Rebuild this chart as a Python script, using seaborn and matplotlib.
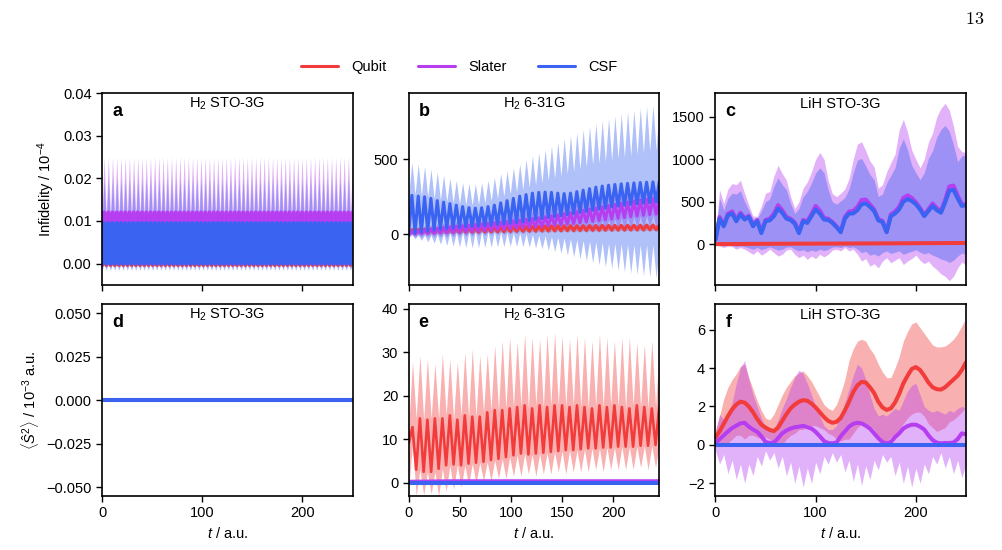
import numpy as np
import matplotlib.pyplot as plt
import seaborn as sns
from matplotlib.lines import Line2D


# colours of the three encodings
RED = "#f23b3b"
PURPLE = "#b63ef0"
BLUE = "#3a63f2"
LW = 2.9

labels = ["Qubit", "Slater", "CSF"]

# ---------------- panel a : H2 STO-3G infidelity (60 periods, per-period extremes)
a_zero = [0.0, 0.0, 0.0, 0.0, 0.0, 0.0, 0.0, 0.0, 0.0, 0.0, 0.0, 0.0,
          0.0, 0.0, 0.0, 0.0, 0.0, 0.0, 0.0, 0.0, 0.0, 0.0, 0.0, 0.0,
          0.0, 0.0, 0.0, 0.0, 0.0, 0.0, 0.0, 0.0, 0.0, 0.0, 0.0, 0.0,
          0.0, 0.0, 0.0, 0.0, 0.0, 0.0, 0.0, 0.0, 0.0, 0.0, 0.0, 0.0,
          0.0, 0.0, 0.0, 0.0, 0.0, 0.0, 0.0, 0.0, 0.0, 0.0, 0.0, 0.0]
a_qubit_lo = [-0.0003, -0.0003, -0.0003, -0.0003, -0.0003, -0.0003, -0.0003, -0.0003, -0.0003, -0.0003, -0.0003, -0.0003,
              -0.0003, -0.0003, -0.0003, -0.0003, -0.0003, -0.0003, -0.0003, -0.0003, -0.0003, -0.0003, -0.0003, -0.0003,
              -0.0003, -0.0003, -0.0003, -0.0003, -0.0003, -0.0003, -0.0003, -0.0003, -0.0003, -0.0003, -0.0003, -0.0003,
              -0.0003, -0.0003, -0.0003, -0.0003, -0.0003, -0.0003, -0.0003, -0.0003, -0.0003, -0.0003, -0.0003, -0.0003,
              -0.0003, -0.0003, -0.0003, -0.0003, -0.0003, -0.0003, -0.0003, -0.0003, -0.0003, -0.0003, -0.0003, -0.0003]
a_qubit_hi = [0.0093, 0.0093, 0.0093, 0.0093, 0.0093, 0.0093, 0.0093, 0.0093, 0.0093, 0.0093, 0.0093, 0.0093,
              0.0093, 0.0093, 0.0093, 0.0093, 0.0093, 0.0093, 0.0093, 0.0093, 0.0093, 0.0093, 0.0093, 0.0093,
              0.0093, 0.0093, 0.0093, 0.0093, 0.0093, 0.0093, 0.0093, 0.0093, 0.0093, 0.0093, 0.0093, 0.0093,
              0.0093, 0.0093, 0.0093, 0.0093, 0.0093, 0.0093, 0.0093, 0.0093, 0.0093, 0.0093, 0.0093, 0.0093,
              0.0093, 0.0093, 0.0093, 0.0093, 0.0093, 0.0093, 0.0093, 0.0093, 0.0093, 0.0093, 0.0093, 0.0093]
a_qubit_up = [0.0097, 0.0097, 0.0097, 0.0097, 0.0097, 0.0097, 0.0097, 0.0097, 0.0097, 0.0097, 0.0097, 0.0097,
              0.0097, 0.0097, 0.0097, 0.0097, 0.0097, 0.0097, 0.0097, 0.0097, 0.0097, 0.0097, 0.0097, 0.0097,
              0.0097, 0.0097, 0.0097, 0.0097, 0.0097, 0.0097, 0.0097, 0.0097, 0.0097, 0.0097, 0.0097, 0.0097,
              0.0097, 0.0097, 0.0097, 0.0097, 0.0097, 0.0097, 0.0097, 0.0097, 0.0097, 0.0097, 0.0097, 0.0097,
              0.0097, 0.0097, 0.0097, 0.0097, 0.0097, 0.0097, 0.0097, 0.0097, 0.0097, 0.0097, 0.0097, 0.0097]
a_qubit_dn = [-0.0006, -0.0006, -0.0006, -0.0006, -0.0006, -0.0006, -0.0006, -0.0006, -0.0006, -0.0006, -0.0006, -0.0006,
              -0.0006, -0.0006, -0.0006, -0.0006, -0.0006, -0.0006, -0.0006, -0.0006, -0.0006, -0.0006, -0.0006, -0.0006,
              -0.0006, -0.0006, -0.0006, -0.0006, -0.0006, -0.0006, -0.0006, -0.0006, -0.0006, -0.0006, -0.0006, -0.0006,
              -0.0006, -0.0006, -0.0006, -0.0006, -0.0006, -0.0006, -0.0006, -0.0006, -0.0006, -0.0006, -0.0006, -0.0006,
              -0.0006, -0.0006, -0.0006, -0.0006, -0.0006, -0.0006, -0.0006, -0.0006, -0.0006, -0.0006, -0.0006, -0.0006]
a_slater_hi = [0.0120, 0.0120, 0.0120, 0.0120, 0.0120, 0.0120, 0.0120, 0.0120, 0.0120, 0.0120, 0.0120, 0.0120,
               0.0120, 0.0120, 0.0120, 0.0120, 0.0120, 0.0120, 0.0120, 0.0120, 0.0120, 0.0120, 0.0120, 0.0120,
               0.0120, 0.0120, 0.0120, 0.0120, 0.0120, 0.0120, 0.0120, 0.0120, 0.0120, 0.0120, 0.0120, 0.0120,
               0.0120, 0.0120, 0.0120, 0.0120, 0.0120, 0.0120, 0.0120, 0.0120, 0.0120, 0.0120, 0.0120, 0.0120,
               0.0120, 0.0120, 0.0120, 0.0120, 0.0120, 0.0120, 0.0120, 0.0120, 0.0120, 0.0120, 0.0120, 0.0120]
a_slater_up = [0.0250, 0.0250, 0.0250, 0.0250, 0.0250, 0.0250, 0.0250, 0.0250, 0.0250, 0.0250, 0.0250, 0.0250,
               0.0250, 0.0250, 0.0250, 0.0250, 0.0250, 0.0250, 0.0250, 0.0250, 0.0250, 0.0250, 0.0250, 0.0250,
               0.0250, 0.0250, 0.0250, 0.0250, 0.0250, 0.0250, 0.0250, 0.0250, 0.0250, 0.0250, 0.0250, 0.0250,
               0.0250, 0.0250, 0.0250, 0.0250, 0.0250, 0.0250, 0.0250, 0.0250, 0.0250, 0.0250, 0.0250, 0.0250,
               0.0250, 0.0250, 0.0250, 0.0250, 0.0250, 0.0250, 0.0250, 0.0250, 0.0250, 0.0250, 0.0250, 0.0250]
a_slater_dn = [-0.0010, -0.0010, -0.0010, -0.0010, -0.0010, -0.0010, -0.0010, -0.0010, -0.0010, -0.0010, -0.0010, -0.0010,
               -0.0010, -0.0010, -0.0010, -0.0010, -0.0010, -0.0010, -0.0010, -0.0010, -0.0010, -0.0010, -0.0010, -0.0010,
               -0.0010, -0.0010, -0.0010, -0.0010, -0.0010, -0.0010, -0.0010, -0.0010, -0.0010, -0.0010, -0.0010, -0.0010,
               -0.0010, -0.0010, -0.0010, -0.0010, -0.0010, -0.0010, -0.0010, -0.0010, -0.0010, -0.0010, -0.0010, -0.0010,
               -0.0010, -0.0010, -0.0010, -0.0010, -0.0010, -0.0010, -0.0010, -0.0010, -0.0010, -0.0010, -0.0010, -0.0010]
a_csf_hi = [0.0095, 0.0095, 0.0095, 0.0095, 0.0095, 0.0095, 0.0095, 0.0095, 0.0095, 0.0095, 0.0095, 0.0095,
            0.0095, 0.0095, 0.0095, 0.0095, 0.0095, 0.0095, 0.0095, 0.0095, 0.0095, 0.0095, 0.0095, 0.0095,
            0.0095, 0.0095, 0.0095, 0.0095, 0.0095, 0.0095, 0.0095, 0.0095, 0.0095, 0.0095, 0.0095, 0.0095,
            0.0095, 0.0095, 0.0095, 0.0095, 0.0095, 0.0095, 0.0095, 0.0095, 0.0095, 0.0095, 0.0095, 0.0095,
            0.0095, 0.0095, 0.0095, 0.0095, 0.0095, 0.0095, 0.0095, 0.0095, 0.0095, 0.0095, 0.0095, 0.0095]
a_csf_up = [0.0200, 0.0200, 0.0200, 0.0200, 0.0200, 0.0200, 0.0200, 0.0200, 0.0200, 0.0200, 0.0200, 0.0200,
            0.0200, 0.0200, 0.0200, 0.0200, 0.0200, 0.0200, 0.0200, 0.0200, 0.0200, 0.0200, 0.0200, 0.0200,
            0.0200, 0.0200, 0.0200, 0.0200, 0.0200, 0.0200, 0.0200, 0.0200, 0.0200, 0.0200, 0.0200, 0.0200,
            0.0200, 0.0200, 0.0200, 0.0200, 0.0200, 0.0200, 0.0200, 0.0200, 0.0200, 0.0200, 0.0200, 0.0200,
            0.0200, 0.0200, 0.0200, 0.0200, 0.0200, 0.0200, 0.0200, 0.0200, 0.0200, 0.0200, 0.0200, 0.0200]
a_csf_dn = [-0.0016, -0.0016, -0.0016, -0.0016, -0.0016, -0.0016, -0.0016, -0.0016, -0.0016, -0.0016, -0.0016, -0.0016,
            -0.0016, -0.0016, -0.0016, -0.0016, -0.0016, -0.0016, -0.0016, -0.0016, -0.0016, -0.0016, -0.0016, -0.0016,
            -0.0016, -0.0016, -0.0016, -0.0016, -0.0016, -0.0016, -0.0016, -0.0016, -0.0016, -0.0016, -0.0016, -0.0016,
            -0.0016, -0.0016, -0.0016, -0.0016, -0.0016, -0.0016, -0.0016, -0.0016, -0.0016, -0.0016, -0.0016, -0.0016,
            -0.0016, -0.0016, -0.0016, -0.0016, -0.0016, -0.0016, -0.0016, -0.0016, -0.0016, -0.0016, -0.0016, -0.0016]

# ---------------- panel b : H2 6-31G infidelity (40 periods)
b_csf_lo = [0, 8, 15, 22, 28, 33, 38, 42, 46, 50, 52, 55, 58, 62, 66, 70, 74, 78, 83, 90,
            98, 105, 112, 118, 124, 130, 137, 145, 152, 160, 168, 175, 182, 188, 194, 199, 204, 208, 212, 216]
b_csf_hi = [260, 255, 250, 240, 225, 215, 205, 195, 185, 178, 175, 178, 185, 195, 210, 225, 240, 255, 265, 275,
            280, 282, 280, 275, 272, 275, 285, 295, 305, 315, 322, 328, 333, 337, 340, 343, 346, 348, 350, 352]
b_csf_up = [480, 470, 455, 435, 415, 395, 375, 360, 345, 340, 338, 345, 360, 380, 405, 425, 445, 470, 500, 525,
            545, 565, 590, 615, 640, 660, 680, 700, 720, 740, 760, 775, 790, 805, 818, 830, 842, 852, 862, 870]
b_csf_upb = [270, 265, 260, 252, 240, 230, 220, 212, 204, 198, 196, 200, 210, 225, 240, 255, 270, 285, 300, 315,
             330, 345, 360, 375, 390, 405, 420, 435, 450, 465, 475, 485, 495, 505, 515, 525, 535, 545, 555, 565]
b_csf_dn = [-20, -30, -40, -50, -58, -65, -72, -78, -84, -88, -90, -90, -88, -86, -84, -82, -80, -80, -82, -85,
            -90, -97, -105, -115, -125, -137, -150, -163, -176, -190, -203, -216, -228, -240, -250, -260, -268, -276, -284, -292]
b_csf_dnb = [0, -5, -5, -5, 0, 5, 10, 12, 15, 18, 20, 20, 20, 18, 15, 12, 10, 8, 5, 0,
             -5, -10, -15, -20, -25, -30, -35, -40, -45, -50, -55, -60, -62, -64, -66, -68, -70, -70, -70, -70]
b_slater_lo = [0, 2, 4, 6, 8, 10, 12, 14, 16, 18, 20, 22, 24, 27, 30, 33, 36, 39, 42, 45,
               48, 52, 56, 60, 64, 68, 72, 77, 82, 87, 92, 97, 102, 107, 112, 117, 122, 127, 131, 135]
b_slater_hi = [20, 25, 30, 35, 40, 45, 50, 55, 58, 62, 66, 70, 74, 78, 82, 86, 90, 95, 100, 105,
               110, 117, 124, 131, 138, 145, 152, 160, 168, 176, 184, 192, 200, 208, 215, 222, 228, 234, 239, 243]
b_slater_up = [50, 55, 60, 66, 72, 78, 84, 90, 95, 100, 105, 110, 116, 122, 128, 134, 140, 147, 154, 161,
               168, 176, 184, 192, 200, 208, 216, 225, 234, 243, 252, 261, 270, 280, 289, 298, 306, 314, 321, 328]
b_slater_dn = [-20, -20, -20, -20, -20, -20, -20, -18, -16, -14, -12, -10, -8, -6, -4, -2, 0, 2, 4, 6,
               8, 10, 12, 14, 16, 18, 20, 22, 24, 26, 28, 30, 32, 34, 36, 38, 40, 42, 44, 46]
b_qubit_lo = [5, 6, 8, 9, 10, 11, 12, 13, 14, 15, 15, 16, 17, 18, 18, 19, 20, 21, 21, 22,
              22, 23, 23, 24, 24, 25, 25, 26, 26, 27, 27, 28, 28, 29, 29, 30, 30, 30, 31, 31]
b_qubit_hi = [30, 32, 34, 36, 38, 40, 40, 42, 42, 44, 44, 46, 46, 48, 48, 50, 50, 52, 52, 54,
              54, 56, 56, 57, 57, 58, 58, 58, 59, 59, 60, 60, 60, 60, 61, 61, 61, 62, 62, 62]
b_qubit_up = [42, 44, 46, 48, 50, 52, 52, 54, 54, 56, 56, 58, 58, 60, 60, 62, 62, 64, 64, 66,
              66, 68, 68, 69, 69, 70, 70, 70, 71, 71, 72, 72, 72, 72, 73, 73, 73, 74, 74, 74]
b_qubit_dn = [-5, -4, -3, -2, -1, 0, 0, 1, 2, 3, 3, 4, 5, 6, 6, 7, 8, 9, 9, 10,
              10, 11, 11, 12, 12, 13, 13, 14, 14, 15, 15, 16, 16, 17, 17, 18, 18, 18, 19, 19]

# ---------------- panel c : LiH STO-3G infidelity (61 samples)
c_csf_mean = [50, 300, 210, 340, 360, 270, 350, 290, 320, 210, 270, 130, 270, 280, 330, 420, 370, 300, 285, 240,
              130, 270, 250, 330, 410, 360, 290, 285, 250, 200, 140, 300, 360, 362, 400, 470, 480, 440, 390, 280,
              260, 140, 330, 360, 410, 500, 530, 510, 470, 410, 330, 390, 450, 400, 370, 490, 630, 640, 540, 450, 460]
c_slater_mean = [55, 320, 225, 360, 385, 290, 370, 305, 335, 225, 285, 145, 285, 300, 360, 460, 400, 320, 300, 255,
                 145, 285, 270, 355, 450, 395, 310, 300, 262, 210, 150, 320, 385, 390, 440, 520, 525, 470, 410, 295,
                 275, 150, 350, 385, 440, 545, 575, 545, 495, 425, 345, 410, 480, 425, 390, 520, 680, 690, 575, 470, 470]
c_slater_up = [100, 640, 480, 650, 714, 700, 753, 595, 460, 330, 330, 450, 600, 620, 800, 930, 832, 753, 560, 420,
               500, 660, 733, 850, 1000, 1080, 1000, 753, 595, 560, 600, 650, 773, 1000, 1180, 1206, 1100, 980, 910, 660,
               700, 850, 960, 1060, 1344, 1470, 1320, 1108, 1000, 900, 1000, 1200, 1310, 1500, 1600, 1660, 1580, 1390, 1150, 1090, 1080]
c_slater_dn = [0, -20, -40, -20, -30, -60, -40, -60, -90, -120, -80, -130, -100, -60, -100, -140, -120, -70, -60, -120,
               -160, -130, -180, -140, -170, -120, -150, -120, -70, -60, -80, -40, -80, -60, -120, -200, -170, -260, -230, -280,
               -200, -160, -220, -190, -160, -240, -200, -170, -130, -190, -230, -200, -260, -300, -350, -380, -430, -380, -280, -210, -250]
c_csf_up = [90, 540, 400, 540, 600, 590, 630, 500, 400, 300, 300, 390, 500, 530, 680, 780, 700, 640, 480, 360,
            420, 560, 620, 720, 840, 900, 840, 640, 500, 470, 510, 550, 650, 840, 990, 1010, 920, 820, 760, 560,
            590, 720, 810, 900, 1130, 1240, 1110, 930, 840, 760, 840, 1010, 1100, 1260, 1350, 1400, 1330, 1170, 970, 1040, 1050]
c_csf_dn = [0, -10, -20, -10, -15, -30, -20, -30, -45, -60, -40, -65, -50, -30, -50, -70, -60, -35, -30, -60,
            -80, -65, -90, -70, -85, -60, -75, -60, -35, -30, -40, -20, -40, -30, -60, -100, -85, -130, -115, -140,
            -100, -80, -110, -95, -80, -120, -100, -85, -65, -95, -115, -100, -130, -150, -175, -190, -215, -190, -140, -105, -125]
c_qubit_mean = [0, 4, 6, 8, 11, 14]
c_qubit_up = [3, 9, 12, 15, 19, 23]
c_qubit_dn = [-3, -1, 0, 1, 3, 5]

# ---------------- panel d : H2 STO-3G <S^2> (all zero)
d_mean = [0.0, 0.0]

# ---------------- panel e : H2 6-31G <S^2> (34 periods)
e_qubit_lo = [9.0, 3.0, 2.5, 2.5, 3.2, 4.0, 4.2, 4.0, 4.4, 4.6, 4.8, 5.2, 5.5, 5.9, 6.3, 6.7, 6.5,
              6.7, 6.9, 7.1, 7.3, 7.5, 7.5, 7.7, 7.9, 7.9, 8.1, 8.1, 8.3, 8.3, 8.3, 8.5, 8.5, 8.7]
e_qubit_hi = [12.8, 14.8, 14.5, 14.8, 14.8, 15.5, 14.5, 15.5, 15.2, 15.2, 16.2, 16.7, 16.7, 17.1, 17.4, 17.8, 17.1,
              17.8, 17.4, 17.8, 17.8, 17.4, 17.8, 17.4, 17.1, 17.8, 17.4, 17.8, 17.4, 17.1, 17.8, 17.4, 17.1, 17.6]
e_qubit_up = [27.8, 29.3, 28.5, 27.4, 29.7, 28.5, 27.8, 30.0, 30.8, 29.3, 29.7, 31.6, 32.7, 33.5, 32.5, 34.3, 33.5,
              33.2, 34.3, 34.6, 33.8, 33.2, 34.3, 33.5, 32.7, 34.3, 33.5, 32.7, 33.5, 33.5, 32.3, 31.9, 32.7, 30.8]
e_qubit_dn = [-1.5, -3.0, -2.8, -2.5, -3.0, -2.0, -1.5, -1.0, -0.5, 0.0, 0.5, 0.5, 1.0, 1.0, 1.5, 1.5, 2.0,
              1.5, 2.0, 2.0, 2.5, 2.0, 2.5, 2.5, 2.5, 3.0, 2.5, 3.0, 3.0, 3.0, 3.0, 3.5, 3.0, 3.5]
e_slater_mean = [0.2, 0.3, 0.3, 0.3, 0.3, 0.3]
e_slater_up = [0.8, 1.0, 1.0, 1.0, 1.0, 1.0]
e_slater_dn = [-0.2, -0.2, -0.2, -0.2, -0.2, -0.2]
e_csf_mean = [0.0, 0.0, 0.0, 0.0, 0.0, 0.0]

# ---------------- panel f : LiH STO-3G <S^2> (61 samples)
f_qubit_mean = [0.40, 0.70, 1.10, 1.50, 1.85, 2.10, 2.25, 2.20, 2.00, 1.70, 1.35, 1.05, 0.90, 0.78, 0.72, 0.90,
                1.25, 1.60, 1.90, 2.10, 2.25, 2.33, 2.30, 2.15, 1.95, 1.70, 1.45, 1.25, 1.15, 1.20, 1.40, 1.80,
                2.25, 2.75, 3.10, 3.28, 3.25, 3.00, 2.70, 2.25, 1.95, 1.82, 1.90, 2.20, 2.65, 3.20, 3.60, 3.95,
                4.05, 3.90, 3.60, 3.25, 3.00, 2.90, 2.88, 3.00, 3.20, 3.40, 3.60, 3.90, 4.30]
f_qubit_up = [0.8, 1.5, 2.4, 3.0, 3.4, 3.7, 4.1, 4.2, 3.5, 2.9, 2.3, 1.8, 1.4, 1.3, 1.6, 2.1,
              2.6, 3.0, 3.3, 3.6, 3.75, 3.85, 3.6, 3.3, 2.9, 2.5, 2.1, 1.9, 1.8, 2.1, 2.7, 3.4,
              4.4, 5.0, 5.4, 5.5, 5.4, 5.0, 4.7, 4.2, 3.8, 3.5, 3.5, 4.0, 4.6, 5.4, 5.9, 6.3,
              6.4, 6.1, 5.8, 5.5, 5.2, 5.1, 5.1, 5.15, 5.3, 5.5, 5.8, 6.2, 6.6]
f_qubit_dn = [0.0, 0.0, 0.0, 0.1, 0.3, 0.5, 0.5, 0.3, 0.5, 0.5, 0.4, 0.3, 0.4, 0.3, 0.0, -0.1,
              0.0, 0.3, 0.5, 0.6, 0.8, 0.8, 1.0, 1.0, 1.0, 0.9, 0.8, 0.6, 0.5, 0.3, 0.2, 0.3,
              0.3, 0.6, 0.9, 1.1, 1.1, 1.0, 0.8, 0.4, 0.2, 0.2, 0.4, 0.5, 0.8, 1.1, 1.4, 1.6,
              1.7, 1.7, 1.5, 1.1, 0.9, 0.7, 0.8, 0.9, 1.2, 1.3, 1.5, 1.7, 2.0]
f_slater_mean = [0.10, 0.30, 0.50, 0.70, 0.88, 1.00, 1.12, 1.15, 0.95, 0.80, 0.68, 0.45, 0.15, 0.10, 0.12, 0.35,
                 0.60, 0.75, 0.85, 0.92, 0.95, 0.99, 0.92, 0.85, 0.68, 0.45, 0.20, 0.10, 0.08, 0.12, 0.45, 0.70,
                 0.95, 1.10, 1.15, 1.12, 1.00, 0.85, 0.60, 0.35, 0.15, 0.08, 0.15, 0.40, 0.60, 0.85, 0.98, 1.05,
                 1.05, 0.95, 0.80, 0.50, 0.25, 0.12, 0.08, 0.10, 0.10, 0.12, 0.30, 0.60, 0.55]
f_slater_up = [0.6, 1.6, 1.3, 1.6, 2.2, 3.2, 4.0, 4.4, 3.4, 2.6, 2.0, 1.4, 0.9, 0.7, 0.8, 1.3,
               1.9, 2.4, 3.0, 3.5, 3.9, 3.7, 3.2, 2.6, 2.0, 1.5, 1.0, 0.8, 0.8, 1.0, 1.5, 2.2,
               2.9, 3.6, 4.2, 4.0, 3.4, 2.6, 1.9, 1.5, 1.6, 1.5, 1.7, 1.9, 1.8, 2.3, 2.8, 3.1,
               3.2, 2.6, 2.0, 1.8, 1.7, 1.8, 1.7, 1.6, 1.8, 1.7, 1.9, 2.0, 1.9]
f_slater_dn = [-0.3, -1.0, -0.5, -1.5, -0.8, -1.8, -1.0, -2.0, -1.0, -1.6, -0.6, -1.1, -0.3, -0.8, -0.4, -1.2,
               -0.6, -1.6, -0.9, -2.0, -1.1, -2.2, -1.2, -2.0, -0.9, -1.5, -0.6, -1.0, -0.4, -0.9, -0.5, -1.4,
               -0.8, -1.9, -1.0, -2.1, -1.1, -1.8, -0.8, -1.3, -0.5, -0.9, -0.6, -1.6, -0.9, -2.0, -1.1, -2.2,
               -1.2, -2.0, -1.0, -1.5, -0.6, -1.0, -0.4, -1.2, -0.6, -1.5, -0.8, -1.7, -1.0]
f_csf_mean = [0.0, 0.0]


def zigzag(at_trough, at_peak):
    out = np.empty(2 * len(at_peak))
    out[0::2] = at_trough
    out[1::2] = at_peak
    return out


def band(ax, t, lower, upper, color):
    ax.fill_between(t, lower, upper, color=color, alpha=0.4, linewidth=0)


def line(ax, t, y, color, lw=LW):
    sns.lineplot(x=t, y=np.asarray(y, dtype=float), ax=ax, color=color, linewidth=lw,
                 estimator=None, sort=False, legend=False)


def osc_band(ax, t, lo, hi, up, dn, color, upb=None, dnb=None):
    top = zigzag(hi if upb is None else upb, up)
    bottom = zigzag(dn, lo if dnb is None else dnb)
    band(ax, t, bottom, top, color)


sns.set_style("ticks")
plt.rcParams.update({
    "font.family": ["Liberation Sans", "DejaVu Sans"],
    "font.size": 10,
    "mathtext.fontset": "custom",
    "mathtext.rm": "Liberation Sans",
    "mathtext.it": "Liberation Sans:italic",
    "mathtext.bf": "Liberation Sans:bold",
    "axes.edgecolor": "black",
    "axes.linewidth": 1.2,
    "xtick.color": "black",
    "ytick.color": "black",
    "text.color": "black",
    "axes.labelcolor": "black",
    "xtick.major.size": 4,
    "ytick.major.size": 4,
    "xtick.major.width": 1.0,
    "ytick.major.width": 1.0,
})

fig, axes = plt.subplots(2, 3, figsize=(10.03, 5.5), dpi=100, sharex="col")
fig.subplots_adjust(left=0.1017, right=0.9631, top=0.8309, bottom=0.0982,
                    wspace=0.224, hspace=0.104)
ax_a, ax_b, ax_c = axes[0]
ax_d, ax_e, ax_f = axes[1]

# ---- a
t_a = np.linspace(0, 250, 120)
osc_band(ax_a, t_a, a_qubit_lo, a_qubit_hi, a_qubit_up, a_qubit_dn, RED)
osc_band(ax_a, t_a, a_zero, a_slater_hi, a_slater_up, a_slater_dn, PURPLE)
osc_band(ax_a, t_a, a_zero, a_csf_hi, a_csf_up, a_csf_dn, BLUE)
line(ax_a, t_a, zigzag(a_qubit_lo, a_qubit_hi), RED)
line(ax_a, t_a, zigzag(a_zero, a_slater_hi), PURPLE)
line(ax_a, t_a, zigzag(a_zero, a_csf_hi), BLUE)

# ---- b
t_b = np.linspace(0, 245, 80)
osc_band(ax_b, t_b, b_qubit_lo, b_qubit_hi, b_qubit_up, b_qubit_dn, RED)
osc_band(ax_b, t_b, b_slater_lo, b_slater_hi, b_slater_up, b_slater_dn, PURPLE)
osc_band(ax_b, t_b, b_csf_lo, b_csf_hi, b_csf_up, b_csf_dn, BLUE, upb=b_csf_upb, dnb=b_csf_dnb)
line(ax_b, t_b, zigzag(b_qubit_lo, b_qubit_hi), RED, lw=2.2)
line(ax_b, t_b, zigzag(b_slater_lo, b_slater_hi), PURPLE, lw=2.2)
line(ax_b, t_b, zigzag(b_csf_lo, b_csf_hi), BLUE, lw=2.2)

# ---- c
t_c = np.linspace(0, 250, 61)
t_c6 = np.linspace(0, 250, 6)
band(ax_c, t_c6, c_qubit_dn, c_qubit_up, RED)
band(ax_c, t_c, c_slater_dn, c_slater_up, PURPLE)
band(ax_c, t_c, c_csf_dn, c_csf_up, BLUE)
line(ax_c, t_c, c_slater_mean, PURPLE)
line(ax_c, t_c, c_csf_mean, BLUE)
line(ax_c, t_c6, c_qubit_mean, RED)

# ---- d
t_d = np.linspace(0, 250, 2)
line(ax_d, t_d, d_mean, RED)
line(ax_d, t_d, d_mean, PURPLE)
line(ax_d, t_d, d_mean, BLUE)

# ---- e
t_e = np.linspace(0, 245, 68)
t_e6 = np.linspace(0, 245, 6)
osc_band(ax_e, t_e, e_qubit_lo, e_qubit_hi, e_qubit_up, e_qubit_dn, RED)
band(ax_e, t_e6, e_slater_dn, e_slater_up, PURPLE)
line(ax_e, t_e, zigzag(e_qubit_lo, e_qubit_hi), RED, lw=1.9)
line(ax_e, t_e6, e_slater_mean, PURPLE)
line(ax_e, t_e6, e_csf_mean, BLUE)

# ---- f
t_f = np.linspace(0, 250, 61)
t_f2 = np.linspace(0, 250, 2)
band(ax_f, t_f, f_qubit_dn, f_qubit_up, RED)
band(ax_f, t_f, f_slater_dn, f_slater_up, PURPLE)
line(ax_f, t_f, f_qubit_mean, RED)
line(ax_f, t_f, f_slater_mean, PURPLE)
line(ax_f, t_f2, f_csf_mean, BLUE)

# ---- axes cosmetics
ax_a.set_ylim(-0.0049, 0.04)
ax_a.set_yticks([0, 0.01, 0.02, 0.03, 0.04])
ax_b.set_ylim(-335, 943)
ax_b.set_yticks([0, 500])
ax_c.set_ylim(-476, 1781)
ax_c.set_yticks([0, 500, 1000, 1500])
ax_d.set_ylim(-0.055, 0.055)
ax_d.set_yticks([-0.05, -0.025, 0, 0.025, 0.05])
ax_e.set_ylim(-3.05, 41)
ax_e.set_yticks([0, 10, 20, 30, 40])
ax_f.set_ylim(-2.66, 7.31)
ax_f.set_yticks([-2, 0, 2, 4, 6])

for ax in (ax_a, ax_c):
    ax.set_xlim(0, 250)
    ax.set_xticks([0, 100, 200])
ax_b.set_xlim(0, 245)
ax_b.set_xticks([0, 50, 100, 150, 200])

titles = ["H$_2$ STO-3G", "H$_2$ 6-31G", "LiH STO-3G"] * 2
letters = ["a", "b", "c", "d", "e", "f"]
for ax, title, letter in zip(axes.flat, titles, letters):
    ax.text(0.5, 0.945, title, transform=ax.transAxes, ha="center", va="center", fontsize=10.5)
    ax.text(0.04, 0.905, letter, transform=ax.transAxes, ha="left", va="center",
            fontsize=13, fontweight="bold")
    ax.set_xlabel("")
    ax.set_ylabel("")
    ax.tick_params(labelsize=10.5)

for ax in axes[1]:
    ax.set_xlabel("$t$ / a.u.", fontsize=10.5)
ax_a.set_ylabel("Infidelity / 10$^{-4}$", fontsize=10.5)
ax_d.set_ylabel(r"$\langle \hat{S}^2 \rangle$ / 10$^{-3}$ a.u.", fontsize=10.5)

handles = [Line2D([], [], color=c, lw=2.2) for c in (RED, PURPLE, BLUE)]
fig.legend(handles, labels, loc="center", bbox_to_anchor=(0.458, 0.878), ncol=3,
           frameon=False, handlelength=2.5, columnspacing=2.2, handletextpad=0.9, fontsize=10.5)

fig.text(0.972, 0.964, r"$\mathrm{13}$", math_fontfamily="cm", fontsize=13,
         ha="center", va="center")

fig.savefig("out.png", dpi=100)
